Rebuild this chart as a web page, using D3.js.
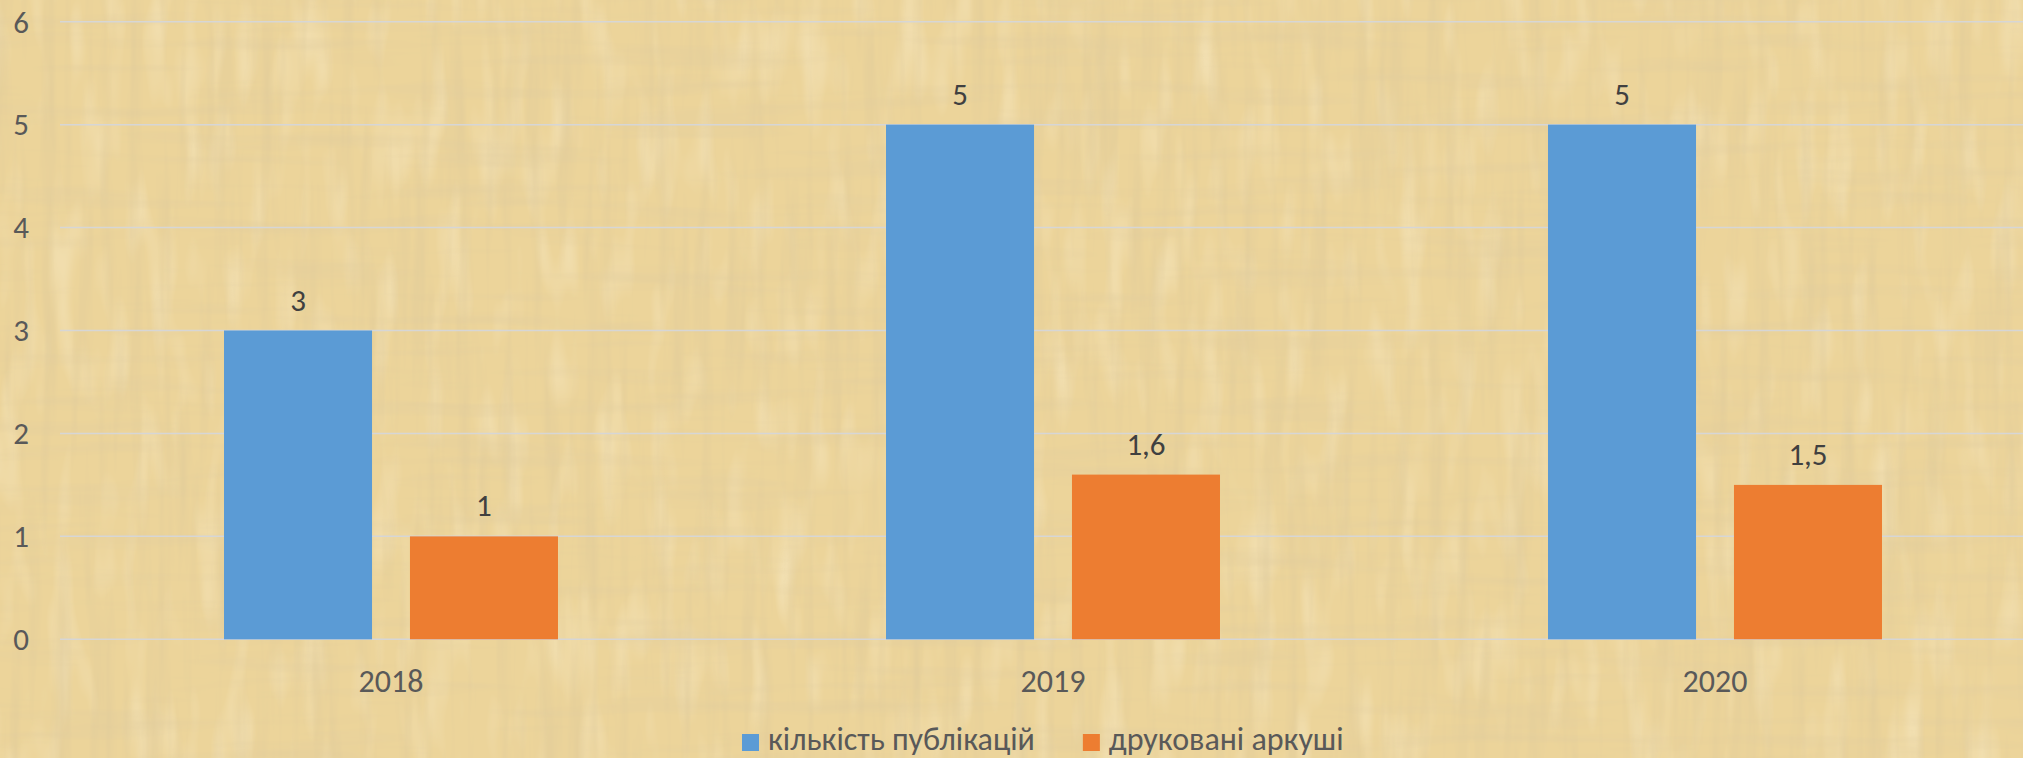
<!DOCTYPE html>
<html>
<head>
<meta charset="utf-8">
<script src="https://cdn.jsdelivr.net/npm/d3@7"></script>
<style>
  body { margin: 0; overflow: hidden; }
  text { font-family: Calibri, Carlito, Lato, "Open Sans", sans-serif; }
</style>
</head>
<body>
<div id="chart"></div>
<script>
// data
var years = ["2018", "2019", "2020"];
var seriesNames = ["кількість публікацій", "друковані аркуші"];
var publications = [3, 5, 5];
var sheets = [1, 1.6, 1.5];
var yTicks = [0, 1, 2, 3, 4, 5, 6];
var colors = ["#5b9bd5", "#ed7d31"];

function init() {
  var width = 2023, height = 758;

  var svg = d3.select("#chart")
    .append("svg")
    .attr("width", width)
    .attr("height", height);

  // papyrus-ish background: base colour + vertical and horizontal fibres
  var defs = svg.append("defs");
  var fv = defs.append("filter").attr("id", "fibV")
    .attr("x", 0).attr("y", 0).attr("width", "100%").attr("height", "100%");
  fv.append("feTurbulence").attr("type", "fractalNoise")
    .attr("baseFrequency", "0.07 0.005").attr("numOctaves", 3).attr("seed", 4);
  fv.append("feColorMatrix").attr("type", "matrix")
    .attr("values", "0 0 0 0 0.72  0 0 0 0 0.58  0 0 0 0 0.32  1.1 0 0 0 -0.5");
  var fh = defs.append("filter").attr("id", "fibH")
    .attr("x", 0).attr("y", 0).attr("width", "100%").attr("height", "100%");
  fh.append("feTurbulence").attr("type", "fractalNoise")
    .attr("baseFrequency", "0.005 0.06").attr("numOctaves", 3).attr("seed", 9);
  fh.append("feColorMatrix").attr("type", "matrix")
    .attr("values", "0 0 0 0 0.74  0 0 0 0 0.60  0 0 0 0 0.34  1.0 0 0 0 -0.48");
  var fl = defs.append("filter").attr("id", "light")
    .attr("x", 0).attr("y", 0).attr("width", "100%").attr("height", "100%");
  fl.append("feTurbulence").attr("type", "fractalNoise")
    .attr("baseFrequency", "0.04 0.01").attr("numOctaves", 2).attr("seed", 21);
  fl.append("feColorMatrix").attr("type", "matrix")
    .attr("values", "0 0 0 0 0.98  0 0 0 0 0.91  0 0 0 0 0.72  0.9 0 0 0 -0.45");

  svg.append("rect").attr("width", width).attr("height", height).attr("fill", "#ecd49a");
  svg.append("rect").attr("width", width).attr("height", height).attr("filter", "url(#light)");
  svg.append("rect").attr("width", width).attr("height", height).attr("filter", "url(#fibV)");
  svg.append("rect").attr("width", width).attr("height", height).attr("filter", "url(#fibH)");

  // scales
  var x = d3.scaleBand()
    .domain(years)
    .range([60, 2046])
    .padding(0);

  var xInner = d3.scaleBand()
    .domain(seriesNames)
    .range([0, x.bandwidth()])
    .paddingInner(0.204)
    .paddingOuter(0.882);

  var y = d3.scaleLinear()
    .domain([0, 6])
    .range([639.3, 21.7]);

  // gridlines
  svg.append("g")
    .selectAll("line")
    .data(yTicks)
    .enter()
    .append("line")
    .attr("x1", 60)
    .attr("x2", width)
    .attr("y1", function (d) { return y(d); })
    .attr("y2", function (d) { return y(d); })
    .attr("stroke", "#d6d6d6")
    .attr("stroke-width", 1.5);

  // y axis labels
  svg.append("g")
    .selectAll("text")
    .data(yTicks)
    .enter()
    .append("text")
    .attr("x", 29)
    .attr("y", function (d) { return y(d); })
    .attr("dy", "0.35em")
    .attr("text-anchor", "end")
    .style("font-size", "31px")
    .style("fill", "#595959")
    .text(function (d) { return d; });

  // x axis labels
  svg.append("g")
    .selectAll("text")
    .data(years)
    .enter()
    .append("text")
    .attr("x", function (d) { return x(d) + x.bandwidth() / 2; })
    .attr("y", 692)
    .attr("text-anchor", "middle")
    .style("font-size", "32px")
    .style("fill", "#595959")
    .text(function (d) { return d; });

  // bars
  var rows = [];
  years.forEach(function (yr, i) {
    rows.push({ year: yr, s: 0, v: publications[i] });
    rows.push({ year: yr, s: 1, v: sheets[i] });
  });

  svg.append("g")
    .selectAll("rect")
    .data(rows)
    .enter()
    .append("rect")
    .attr("x", function (d) { return x(d.year) + xInner(seriesNames[d.s]); })
    .attr("y", function (d) { return y(d.v); })
    .attr("width", xInner.bandwidth())
    .attr("height", function (d) { return y(0) - y(d.v); })
    .style("fill", function (d) { return colors[d.s]; });

  // data labels
  svg.append("g")
    .selectAll("text")
    .data(rows)
    .enter()
    .append("text")
    .attr("x", function (d) { return x(d.year) + xInner(seriesNames[d.s]) + xInner.bandwidth() / 2; })
    .attr("y", function (d) { return y(d.v) - 20; })
    .attr("text-anchor", "middle")
    .style("font-size", "31px")
    .style("fill", "#404040")
    .text(function (d) { return String(d.v).replace(".", ","); });

  // legend
  var legend = svg.append("g");
  var lx = 742;
  seriesNames.forEach(function (name, i) {
    legend.append("rect")
      .attr("x", lx).attr("y", 734)
      .attr("width", 17).attr("height", 17)
      .style("fill", colors[i]);
    var t = legend.append("text")
      .attr("x", lx + 26).attr("y", 750)
      .style("font-size", "32px")
      .style("fill", "#595959")
      .text(name);
    lx = lx + 26 + t.node().getComputedTextLength() + 48;
  });
}
window.onload = init;
</script>
</body>
</html>
